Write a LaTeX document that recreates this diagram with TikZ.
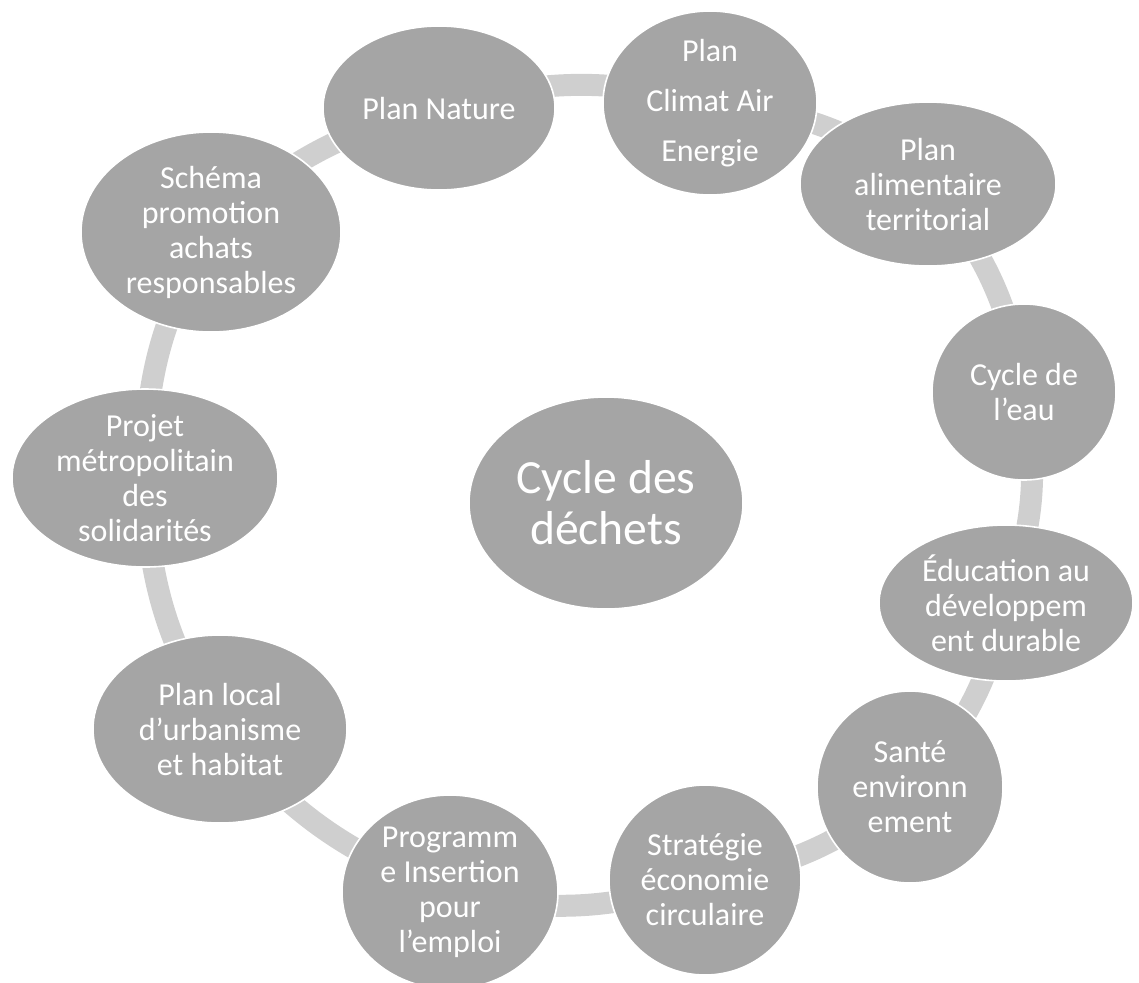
\documentclass[tikz,border=0pt]{standalone}
\usepackage{fontspec}
\setmainfont{Carlito}
\usetikzlibrary{shapes.geometric,backgrounds}
\definecolor{bulle}{RGB}{165,165,165}
\definecolor{anneau}{RGB}{207,207,207}
\tikzset{
	plan/.style={ellipse,fill=bulle,draw=white,line width=0.8pt,inner sep=0pt},
	lbl/.style={text=white,align=center,font=\fontsize{16pt}{17.5pt}\selectfont},
	lien/.style={draw=anneau,line width=11pt}
}
\begin{document}
\begin{tikzpicture}[x=0.5pt,y=-0.5pt]
	\path[use as bounding box] (0,0) rectangle (1139,982);
	\node[plan,minimum width=137pt,minimum height=106pt,label={[lbl,font=\fontsize{23.8pt}{25.5pt}\selectfont]center:Cycle des\\déchets}] (dechets) at (606,503) {};
	\node[plan,minimum width=116pt,minimum height=82pt,label={[lbl]center:Plan Nature}] (nature) at (439,108) {};
	\node[plan,minimum width=107pt,minimum height=92pt,label={[lbl,font=\fontsize{16pt}{25pt}\selectfont]center:Plan\\Climat Air\\Energie}] (climat) at (710,103) {};
	\node[plan,minimum width=128pt,minimum height=82pt,label={[lbl]center:Plan\\alimentaire\\territorial}] (alim) at (928,184) {};
	\node[plan,minimum width=92pt,minimum height=88pt,label={[lbl]center:Cycle de\\l’eau}] (eau) at (1024,392) {};
	\node[plan,minimum width=127pt,minimum height=78pt,label={[lbl]center:Éducation au\\développem\\ent durable}] (educ) at (1006,603) {};
	\node[plan,minimum width=93pt,minimum height=96pt,label={[lbl]center:Santé\\environn\\ement}] (sante) at (910,787) {};
	\node[plan,minimum width=96pt,minimum height=95pt,label={[lbl]center:Stratégie\\économie\\circulaire}] (strat) at (705,880) {};
	\node[plan,minimum width=108pt,minimum height=97pt,label={[lbl]center:Programm\\e Insertion\\pour\\l’emploi}] (insert) at (450,892) {};
	\node[plan,minimum width=127pt,minimum height=94pt,label={[lbl]center:Plan local\\d’urbanisme\\et habitat}] (plu) at (220,729) {};
	\node[plan,minimum width=133pt,minimum height=89pt,label={[lbl]center:Projet\\métropolitain\\des\\solidarités}] (solid) at (145,478) {};
	\node[plan,minimum width=130pt,minimum height=100pt,label={[lbl]center:Schéma\\promotion\\achats\\responsables}] (achats) at (211,232) {};
	% anneau derriere les bulles
	\begin{scope}[on background layer]
		\foreach \a/\b in {nature/climat,climat/alim,alim/eau,eau/educ,educ/sante,sante/strat,strat/insert,insert/plu,plu/solid,solid/achats,achats/nature}
			\draw[lien] (\a.center) to[bend left=15] (\b.center);
	\end{scope}
\end{tikzpicture}
\end{document}
